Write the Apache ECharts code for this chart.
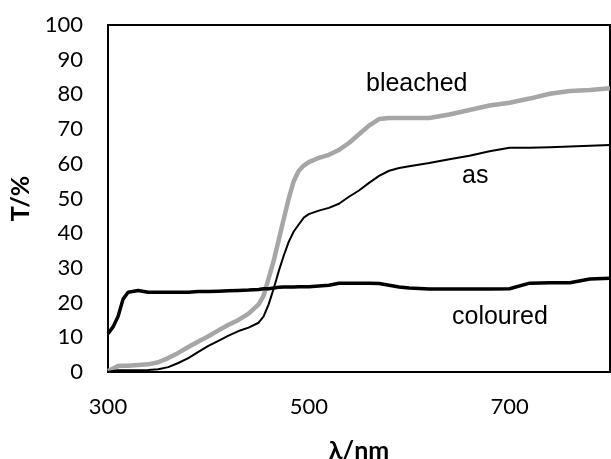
<!DOCTYPE html>
<html>
<head>
<meta charset="utf-8">
<script src="https://cdn.jsdelivr.net/npm/echarts@6/dist/echarts.min.js"></script>
<style>
html, body { margin: 0; padding: 0; background: #fff; }
#chart { width: 611px; height: 459px; }
</style>
</head>
<body>
<div id="chart"></div>
<script>
var wavelength = [300, 305, 310, 315, 320, 330, 340, 350, 360, 370, 380, 390, 400, 410, 420, 430, 440, 450, 455, 460, 465, 470, 475, 480, 485, 490, 495, 500, 510, 520, 530, 540, 550, 560, 570, 580, 590, 600, 620, 640, 660, 680, 700, 720, 740, 760, 780, 800];
var coloured = [11, 13, 16, 21, 23, 23.5, 23, 23, 23, 23, 23, 23.2, 23.2, 23.3, 23.4, 23.5, 23.6, 23.8, 24, 24, 24.2, 24.4, 24.5, 24.5, 24.5, 24.6, 24.6, 24.6, 24.8, 25, 25.6, 25.6, 25.6, 25.6, 25.5, 25, 24.5, 24.2, 23.9, 23.9, 23.9, 23.9, 24, 25.6, 25.7, 25.7, 26.8, 27];
var bleached = [0.3, 1, 1.7, 1.8, 1.8, 2, 2.2, 2.8, 4, 5.5, 7.2, 8.8, 10.3, 12, 13.6, 15, 16.8, 19.5, 22, 27, 32, 38, 44, 50, 55, 58, 59.5, 60.5, 61.7, 62.6, 64, 66, 68.5, 71, 72.9, 73.2, 73.2, 73.2, 73.2, 74.2, 75.5, 76.8, 77.6, 78.8, 80.2, 81, 81.3, 81.8];
var asPrepared = [0, 0.3, 0.5, 0.5, 0.5, 0.5, 0.6, 0.8, 1.4, 2.6, 4, 5.8, 7.5, 9, 10.5, 11.8, 12.8, 14.2, 16, 19.5, 24, 29, 33.5, 37.5, 40.5, 42.5, 44.5, 45.5, 46.5, 47.3, 48.5, 50.5, 52.3, 54.5, 56.5, 58, 58.8, 59.3, 60.2, 61.3, 62.3, 63.6, 64.6, 64.6, 64.8, 65, 65.2, 65.4];

function pairs(ys) {
    return wavelength.map(function (x, i) { return [x, ys[i]]; });
}

var myChart = echarts.init(document.getElementById('chart'));
var tickFont = 'Lato, "Open Sans", sans-serif';
var labelFont = '25px "Liberation Sans", Arial, sans-serif';
var option = {
    animation: false,
    grid: {
        left: 108,
        top: 25,
        right: 1,
        bottom: 87,
        outerBoundsMode: 'none',
        containLabel: false,
        show: true,
        borderColor: '#000',
        borderWidth: 2
    },
    xAxis: {
        type: 'value',
        min: 300,
        max: 800,
        interval: 200,
        name: 'λ/nm',
        nameLocation: 'middle',
        nameGap: 66,
        nameTextStyle: { fontFamily: tickFont, fontWeight: 'bold', fontSize: 25, color: '#000' },
        axisLine: { show: false },
        axisTick: { show: false },
        splitLine: { show: false },
        axisLabel: { fontFamily: tickFont, fontSize: 22, color: '#000', margin: 24, showMaxLabel: false }
    },
    yAxis: {
        type: 'value',
        min: 0,
        max: 100,
        interval: 10,
        name: 'T/%',
        nameLocation: 'middle',
        nameGap: 71,
        nameTextStyle: { fontFamily: tickFont, fontWeight: 'bold', fontSize: 25, color: '#000' },
        axisLine: { show: false },
        axisTick: { show: false },
        splitLine: { show: false },
        axisLabel: { fontFamily: tickFont, fontSize: 22, color: '#000', margin: 25 }
    },
    series: [
        {
            name: 'bleached',
            type: 'line',
            showSymbol: false,
            lineStyle: { color: '#a6a6a6', width: 4.5 },
            data: pairs(bleached)
        },
        {
            name: 'as',
            type: 'line',
            showSymbol: false,
            lineStyle: { color: '#000', width: 2 },
            data: pairs(asPrepared)
        },
        {
            name: 'coloured',
            type: 'line',
            showSymbol: false,
            lineStyle: { color: '#000', width: 3.5 },
            data: pairs(coloured)
        }
    ],
    graphic: [
        { type: 'text', left: 366, top: 72, style: { text: 'bleached', font: labelFont, fill: '#000' } },
        { type: 'text', left: 462, top: 164, style: { text: 'as', font: labelFont, fill: '#000' } },
        { type: 'text', left: 452, top: 305, style: { text: 'coloured', font: labelFont, fill: '#000' } }
    ]
};
myChart.setOption(option);
</script>
</body>
</html>
